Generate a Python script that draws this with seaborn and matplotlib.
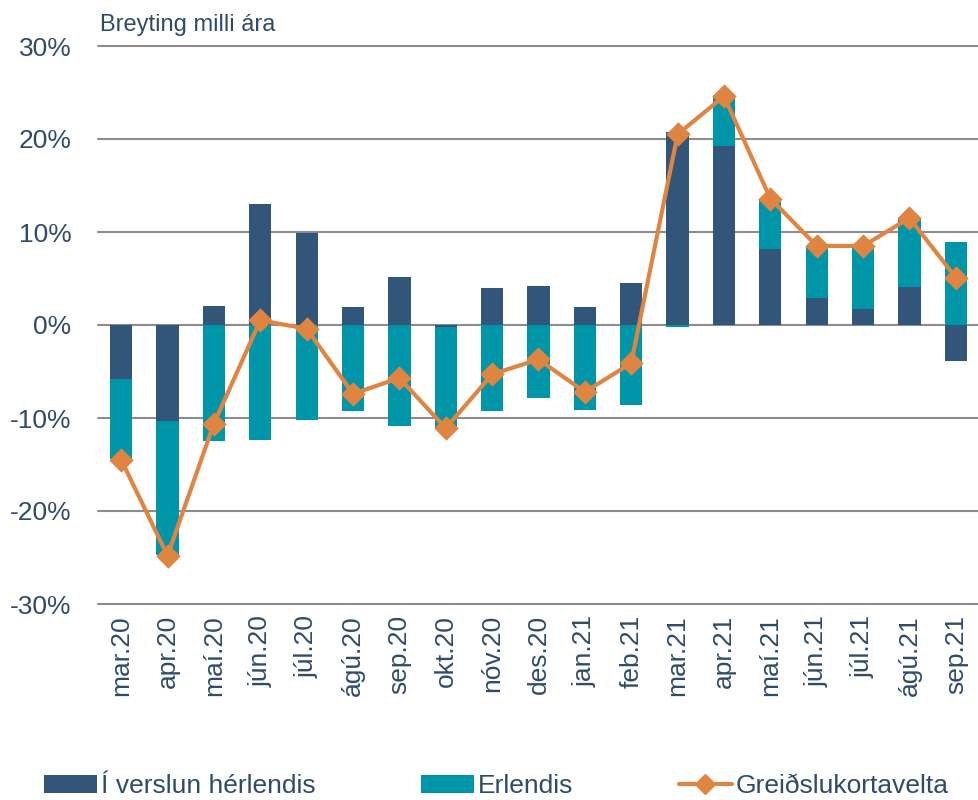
import matplotlib
matplotlib.use("Agg")
import matplotlib.pyplot as plt
import seaborn as sns
from matplotlib.patches import Patch
from matplotlib.lines import Line2D
from matplotlib.ticker import FuncFormatter

# data (% change year over year)
months = ['mar.20', 'apr.20', 'maí.20', 'jún.20', 'júl.20', 'ágú.20', 'sep.20',
          'okt.20', 'nóv.20', 'des.20', 'jan.21', 'feb.21', 'mar.21', 'apr.21',
          'maí.21', 'jún.21', 'júl.21', 'ágú.21', 'sep.21']
domestic = [-5.8, -10.3, 2.0, 13.0, 9.9, 1.9, 5.2, -0.2, 4.0, 4.2, 1.9, 4.5,
            20.7, 19.2, 8.2, 2.9, 1.7, 4.05, -3.9]
foreign = [-8.6, -14.4, -12.5, -12.4, -10.2, -9.25, -10.9, -10.9, -9.3, -7.9,
           -9.1, -8.6, -0.25, 5.5, 5.4, 5.5, 6.8, 7.35, 8.9]
total = [-14.5, -24.8, -10.6, 0.5, -0.4, -7.4, -5.7, -11.1, -5.3, -3.7, -7.2,
         -4.1, 20.5, 24.6, 13.6, 8.5, 8.5, 11.5, 5.1]

c_dom = '#32567A'
c_for = '#0096A9'
c_line = '#E08441'
c_text = '#2F4B6B'
c_grid = '#8C8C8C'

sns.set_style('white')
plt.rcParams['font.family'] = ['Liberation Sans', 'DejaVu Sans']

fig = plt.figure(figsize=(9.79, 8.0), dpi=100)
ax = fig.add_axes([98 / 979, 1 - 604 / 800, 1 - 98 / 979, (604 - 46) / 800])

# Excel-style stacking: same sign stacks on the first series, opposite sign starts at 0
bottom_for = [d if d * f > 0 else 0 for d, f in zip(domestic, foreign)]

sns.barplot(x=months, y=domestic, color=c_dom, saturation=1, width=0.48,
            errorbar=None, linewidth=0, ax=ax, zorder=2)
sns.barplot(x=months, y=foreign, color=c_for, saturation=1, width=0.48,
            errorbar=None, linewidth=0, bottom=bottom_for, ax=ax, zorder=2)
sns.pointplot(x=months, y=total, color=c_line, marker='D', markersize=10,
              linewidth=3, errorbar=None, ax=ax, zorder=3)

ax.set_xlim(-0.5, len(months) - 0.5)
ax.set_ylim(-30, 30)
ax.set_yticks(range(-30, 31, 10))
ax.yaxis.set_major_formatter(FuncFormatter(lambda v, p: f'{v:.0f}%'))
ax.set_xlabel('')
ax.set_ylabel('')

ax.set_axisbelow(True)
ax.yaxis.grid(True, color=c_grid, linewidth=1.5)
for gl in ax.get_ygridlines():
    gl.set_clip_on(False)
for s in ax.spines.values():
    s.set_visible(False)

ax.tick_params(axis='y', length=0, pad=19, labelsize=19, labelcolor=c_text)
ax.tick_params(axis='x', length=0, pad=8, labelsize=19, labelcolor=c_text,
               labelrotation=90)

fig.text(100 / 979, 1 - 31 / 800, 'Breyting milli ára', fontsize=17,
         color=c_text, va='baseline', ha='left')

handles = [Patch(facecolor=c_dom, edgecolor='none'),
           Patch(facecolor=c_for, edgecolor='none'),
           Line2D([0], [0], color=c_line, linewidth=3, marker='D', markersize=10)]
labels = ['Í verslun hérlendis', 'Erlendis', 'Greiðslukortavelta']
leg = fig.legend(handles, labels, loc='center', bbox_to_anchor=(0.507, 1 - 786 / 800),
                 ncol=3, frameon=False, fontsize=19, handlelength=2.0,
                 handleheight=0.7, handletextpad=0.15, columnspacing=4.0)
for t in leg.get_texts():
    t.set_color(c_text)

fig.savefig('out.png', dpi=100)
